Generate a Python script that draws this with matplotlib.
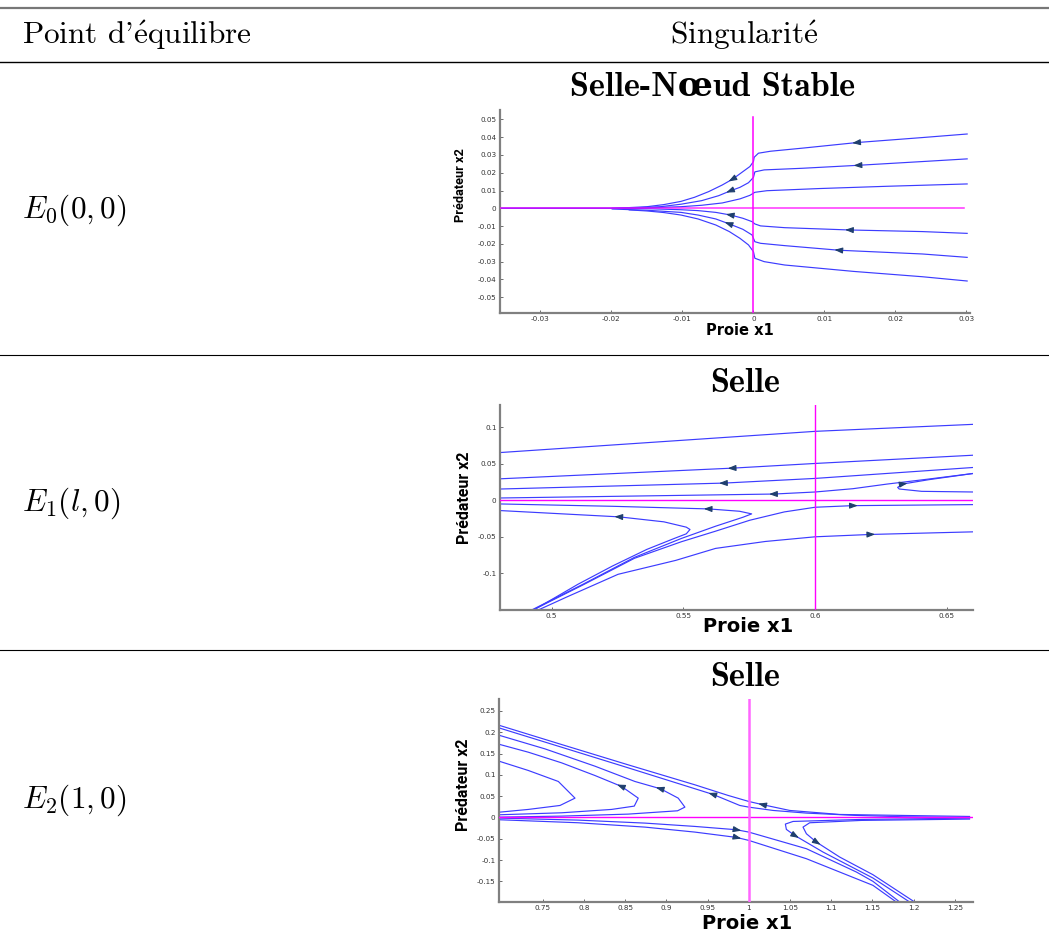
import matplotlib.pyplot as plt
from matplotlib.lines import Line2D
import numpy as np

plt.rcParams["mathtext.fontset"] = "cm"

# ---------------------------------------------------------------- table text
HEADER_LEFT = "Point d'$\\mathrm{\\acute{e}}$quilibre"
HEADER_RIGHT = "Singularit$\\mathrm{\\acute{e}}$"
ROW_POINTS = [r"$E_0(0,0)$", r"$E_1(l,0)$", r"$E_2(1,0)$"]
ROW_TITLES = ["Selle-Nœud Stable", "Selle", "Selle"]
X_LABEL = "Proie x1"
Y_LABEL = "Prédateur x2"

# ---------------------------------------------------------------- panel E0
E0_POINT = (0.0, 0.0)
E0_XLIM = (-0.0357, 0.0305)
E0_YLIM = (-0.0589, 0.0553)
E0_XTICKS = [-0.03, -0.02, -0.01, 0, 0.01, 0.02, 0.03]
E0_XTICKLABELS = ["-0.03", "-0.02", "-0.01", "0", "0.01", "0.02", "0.03"]
E0_YTICKS = [0.05, 0.04, 0.03, 0.02, 0.01, 0, -0.01, -0.02, -0.03, -0.04, -0.05]
E0_YTICKLABELS = ["0.05", "0.04", "0.03", "0.02", "0.01", "0", "-0.01", "-0.02",
                  "-0.03", "-0.04", "-0.05"]
E0_HLINE_END = 0.0296
E0_VLINE_END = 0.0516

e0_t1 = [(0.0301, 0.0418), (0.0238, 0.0398), (0.0146, 0.0370), (0.0068, 0.0338),
         (0.0024, 0.0321), (0.0007, 0.0310), (0.0001, 0.0287), (0.0, 0.0263),
         (-0.0005, 0.0235), (-0.0015, 0.0206), (-0.0029, 0.0165), (-0.0044, 0.0131),
         (-0.0063, 0.0094), (-0.0083, 0.0062), (-0.0102, 0.0039), (-0.0126, 0.0021),
         (-0.0150, 0.0009), (-0.0175, 0.0004), (-0.0199, 0.0), (-0.0357, 0.0)]
e0_t2 = [(0.0301, 0.0278), (0.0238, 0.0263), (0.0148, 0.0242), (0.0068, 0.0225),
         (0.0015, 0.0216), (0.0002, 0.0205), (0.0, 0.0174), (-0.0007, 0.0144),
         (-0.0019, 0.0118), (-0.0032, 0.0099), (-0.0049, 0.0071), (-0.0073, 0.0043),
         (-0.0102, 0.0023), (-0.0131, 0.0009), (-0.0160, 0.0004), (-0.0199, 0.0),
         (-0.0357, 0.0)]
e0_t3 = [(0.0301, 0.0137), (0.0189, 0.0124), (0.0092, 0.0111), (0.0019, 0.0099),
         (0.0002, 0.0090), (-0.0005, 0.0073), (-0.0019, 0.0053), (-0.0044, 0.0030),
         (-0.0073, 0.0017), (-0.0102, 0.0009), (-0.0141, 0.0004), (-0.0199, 0.0),
         (-0.0357, 0.0)]
e0_b1 = [(0.0301, -0.0141), (0.0238, -0.0131), (0.0136, -0.0122), (0.0044, -0.0109),
         (0.0010, -0.0099), (0.0002, -0.0088), (-0.0002, -0.0075), (-0.0015, -0.0056),
         (-0.0032, -0.0038), (-0.0053, -0.0023), (-0.0078, -0.0013), (-0.0102, -0.0008),
         (-0.0150, -0.0002), (-0.0199, 0.0)]
e0_b2 = [(0.0301, -0.0276), (0.0238, -0.0257), (0.0121, -0.0236), (0.0044, -0.0210),
         (0.0010, -0.0197), (0.0002, -0.0188), (-0.0002, -0.0150), (-0.0015, -0.0118),
         (-0.0034, -0.0088), (-0.0053, -0.0060), (-0.0078, -0.0038), (-0.0102, -0.0023),
         (-0.0150, -0.0011), (-0.0199, -0.0004)]
e0_b3 = [(0.0301, -0.0409), (0.0238, -0.0385), (0.0141, -0.0355), (0.0044, -0.0319),
         (0.0015, -0.0300), (0.0002, -0.0281), (0.0, -0.0244), (-0.0007, -0.0206),
         (-0.0019, -0.0169), (-0.0034, -0.0131), (-0.0053, -0.0094), (-0.0078, -0.0060),
         (-0.0102, -0.0038), (-0.0126, -0.0024), (-0.0150, -0.0015), (-0.0175, -0.0009)]
E0_CURVES = [e0_t1, e0_t2, e0_t3, e0_b1, e0_b2, e0_b3]
# (curve, index of arrow point, index it points towards)
E0_ARROWS = [(e0_t1, 2, 3), (e0_t1, 10, 11), (e0_t2, 2, 3), (e0_t2, 9, 10),
             (e0_b1, 2, 3), (e0_b1, 8, 9), (e0_b2, 2, 3), (e0_b2, 8, 9)]

# ---------------------------------------------------------------- panel E1
E1_POINT = (0.6, 0.0)
E1_XLIM = (0.4804, 0.6599)
E1_YLIM = (-0.1503, 0.1306)
E1_XTICKS = [0.5, 0.55, 0.6, 0.65]
E1_XTICKLABELS = ["0.5", "0.55", "0.6", "0.65"]
E1_YTICKS = [0.1, 0.05, 0, -0.05, -0.1]
E1_YTICKLABELS = ["0.1", "0.05", "0", "-0.05", "-0.1"]

e1_l1 = [(0.4807, 0.0655), (0.6, 0.0945), (0.66, 0.1041)]
e1_l2 = [(0.4807, 0.0295), (0.5687, 0.0441), (0.6, 0.0505), (0.66, 0.0618)]
e1_l3 = [(0.4807, 0.0155), (0.5654, 0.0236), (0.6, 0.0300), (0.66, 0.0450)]
e1_l4 = [(0.66, 0.0114), (0.6404, 0.0123), (0.6319, 0.0155), (0.6313, 0.0177),
         (0.6332, 0.0223), (0.6430, 0.0282), (0.66, 0.0368)]
e1_l5 = [(0.4807, 0.0032), (0.5844, 0.0086), (0.6, 0.0114), (0.6143, 0.0159),
         (0.6274, 0.0223), (0.6430, 0.0291), (0.66, 0.0368)]
e1_l6 = [(0.4807, -0.0050), (0.5231, -0.0082), (0.5596, -0.0118), (0.5713, -0.0150),
         (0.5759, -0.0186), (0.5726, -0.0232), (0.5622, -0.0355), (0.5492, -0.0523),
         (0.5314, -0.0782), (0.5119, -0.1150), (0.4923, -0.1505)]
e1_l7 = [(0.4807, -0.0141), (0.5257, -0.0227), (0.5426, -0.0295), (0.5511, -0.0368),
         (0.5525, -0.0400), (0.5511, -0.0459), (0.5465, -0.0523), (0.5361, -0.0673),
         (0.5231, -0.0900), (0.5100, -0.1150), (0.4931, -0.1505)]
e1_l8 = [(0.66, -0.0059), (0.6143, -0.0073), (0.6, -0.0095), (0.5883, -0.0159),
         (0.5752, -0.0273), (0.5622, -0.0423), (0.5492, -0.0568), (0.5314, -0.0795),
         (0.5119, -0.1159), (0.4923, -0.1514)]
e1_l9 = [(0.66, -0.0432), (0.6209, -0.0468), (0.6, -0.0500), (0.5811, -0.0564),
         (0.5622, -0.0659), (0.5471, -0.0823), (0.5252, -0.1014), (0.5056, -0.1327),
         (0.4951, -0.1500)]
E1_CURVES = [e1_l1, e1_l2, e1_l3, e1_l4, e1_l5, e1_l6, e1_l7, e1_l8, e1_l9]
E1_ARROWS = [(e1_l2, 1, 0), (e1_l3, 1, 0), (e1_l5, 1, 0), (e1_l6, 2, 1),
             (e1_l7, 1, 0), (e1_l8, 1, 0), (e1_l9, 1, 0), (e1_l4, 4, 5)]

# ---------------------------------------------------------------- panel E2
E2_POINT = (1.0, 0.0)
E2_XLIM = (0.697, 1.272)
E2_YLIM = (-0.1985, 0.278)
E2_XTICKS = [0.75, 0.8, 0.85, 0.9, 0.95, 1, 1.05, 1.1, 1.15, 1.2, 1.25]
E2_XTICKLABELS = ["0.75", "0.8", "0.85", "0.9", "0.95", "1", "1.05", "1.1", "1.15",
                  "1.2", "1.25"]
E2_YTICKS = [0.25, 0.2, 0.15, 0.1, 0.05, 0, -0.05, -0.1, -0.15]
E2_YTICKLABELS = ["0.25", "0.2", "0.15", "0.1", "0.05", "0", "-0.05", "-0.1", "-0.15"]

e2_p1 = [(0.6983, 0.2156), (0.7730, 0.1711), (0.8538, 0.1234), (0.9346, 0.0766),
         (0.9750, 0.0516), (1.0, 0.0375), (1.0174, 0.0297), (1.0497, 0.0164),
         (1.1103, 0.0070), (1.1870, 0.0047), (1.2678, 0.0023)]
e2_p2 = [(0.6983, 0.2094), (0.7730, 0.1648), (0.8538, 0.1164), (0.9568, 0.0539),
         (0.9891, 0.0281), (1.0, 0.0242), (1.0295, 0.0164), (1.0699, 0.0102),
         (1.1305, 0.0047), (1.1870, 0.0016), (1.2678, 0.0)]
e2_c1 = [(0.6983, 0.1313), (0.7326, 0.1102), (0.7690, 0.0844), (0.7892, 0.0453),
         (0.7710, 0.0281), (0.7326, 0.0188), (0.6983, 0.0125)]
e2_c2 = [(0.6983, 0.1711), (0.7326, 0.1531), (0.7730, 0.1281), (0.8134, 0.0984),
         (0.8457, 0.0727), (0.8659, 0.0453), (0.8611, 0.0266), (0.8336, 0.0188),
         (0.7730, 0.0109), (0.6983, 0.0063)]
e2_c3 = [(0.6983, 0.1922), (0.7528, 0.1609), (0.8134, 0.1203), (0.8619, 0.0844),
         (0.8930, 0.0672), (0.9144, 0.0453), (0.9225, 0.0242), (0.9136, 0.0156),
         (0.8538, 0.0078), (0.7730, 0.0031), (0.6983, 0.0008)]
e2_q1 = [(0.6983, -0.0016), (0.7932, -0.0063), (0.8740, -0.0133), (0.9346, -0.0211),
         (0.9851, -0.0289), (1.0, -0.0344), (1.0699, -0.0734), (1.1305, -0.1281),
         (1.1506, -0.1500), (1.1830, -0.1984)]
e2_q2 = [(0.6983, -0.0055), (0.7932, -0.0125), (0.8740, -0.0227), (0.9346, -0.0344),
         (0.9851, -0.0469), (1.0, -0.0539), (1.0699, -0.0969), (1.1506, -0.1594),
         (1.1789, -0.1984)]
e2_h1 = [(1.2678, -0.0016), (1.1365, -0.0047), (1.0537, -0.0094), (1.0444, -0.0156),
         (1.0456, -0.0281), (1.0557, -0.0422), (1.0901, -0.0813), (1.1506, -0.1422),
         (1.1951, -0.1984)]
e2_h2 = [(1.2678, -0.0039), (1.1365, -0.0070), (1.0739, -0.0125), (1.0658, -0.0227),
         (1.0699, -0.0383), (1.0820, -0.0578), (1.1103, -0.0930), (1.1506, -0.1344),
         (1.2011, -0.1984)]
E2_CURVES = [e2_p1, e2_p2, e2_c1, e2_c2, e2_c3, e2_q1, e2_q2, e2_h1, e2_h2]
E2_ARROWS = [(e2_p1, 6, 5), (e2_p2, 3, 2), (e2_c2, 4, 3), (e2_c3, 4, 3),
             (e2_q1, 4, 5), (e2_q2, 4, 5), (e2_h1, 5, 6), (e2_h2, 5, 6)]

# ---------------------------------------------------------------- styles
W, H = 1049, 943
CURVE_COLOR = "#3c3cff"
ARROW_COLOR = "#1f3f6e"
AXIS_COLOR = "#ff00ff"
SPINE_COLOR = "#808080"
SERIF = ["cmr10", "DejaVu Serif"]
SERIF_BOLD = ["cmb10", "DejaVu Serif"]
NARROW = ["Roboto", "DejaVu Sans"]


def px_axes(fig, left, top, right, bottom):
    return fig.add_axes([left / W, 1 - bottom / H, (right - left) / W, (bottom - top) / H])


def add_arrow(ax, curve, i, j):
    p0 = ax.transData.transform(curve[i])
    p1 = ax.transData.transform(curve[j])
    d = (p1 - p0) / np.hypot(*(p1 - p0))
    inv = ax.transData.inverted()
    ax.annotate("", xy=inv.transform(p0 + d * 5), xytext=inv.transform(p0 - d * 3),
                arrowprops=dict(arrowstyle="-|>,head_length=0.6,head_width=0.22",
                                color=ARROW_COLOR, lw=0.8, mutation_scale=8,
                                shrinkA=0, shrinkB=0), zorder=4)


def draw_panel(ax, curves, arrows, xlim, ylim, xticks, xticklabels, yticks,
               yticklabels, label_size, label_pos):
    ax.set_xlim(*xlim)
    ax.set_ylim(*ylim)
    for c in curves:
        xs, ys = zip(*c)
        ax.plot(xs, ys, color=CURVE_COLOR, lw=0.85, zorder=2)
    for c, i, j in arrows:
        add_arrow(ax, c, i, j)
    ax.set_xticks(xticks, xticklabels)
    ax.set_yticks(yticks, yticklabels)
    ax.tick_params(direction="in", length=2.5, width=0.6, color="#555555",
                   labelsize=5.2, labelcolor="#333333", pad=2.5)
    for s in ("top", "right"):
        ax.spines[s].set_visible(False)
    for s in ("left", "bottom"):
        ax.spines[s].set_color(SPINE_COLOR)
        ax.spines[s].set_linewidth(1.6)
    (xlx, xly), (ylx, yly) = label_pos
    ax.text(xlx, xly, X_LABEL, transform=ax.transAxes, ha="center", va="center",
            fontsize=label_size[0], fontweight="bold", family="DejaVu Sans")
    ax.text(ylx, yly, Y_LABEL, transform=ax.transAxes, ha="center", va="center",
            rotation=90, fontsize=label_size[1], fontweight="bold", family=NARROW)


fig = plt.figure(figsize=(W / 100, H / 100), dpi=100)

# table frame and texts, in pixel coordinates
bg = fig.add_axes([0, 0, 1, 1])
bg.set_xlim(0, W)
bg.set_ylim(H, 0)
bg.axis("off")
bg.add_line(Line2D([0, W], [8, 8], color="#777777", lw=1.6))
bg.add_line(Line2D([0, W], [62, 62], color="black", lw=1.0))
bg.add_line(Line2D([0, W], [355, 355], color="black", lw=0.8))
bg.add_line(Line2D([0, W], [650, 650], color="black", lw=0.8))
bg.text(22, 35, HEADER_LEFT, fontsize=22.5, family=SERIF, ha="left", va="center")
bg.text(744, 35, HEADER_RIGHT, fontsize=22.5, family=SERIF, ha="center", va="center")
for y, txt in zip([210, 503, 800], ROW_POINTS):
    bg.text(22, y, txt, fontsize=22.5, ha="left", va="center")
for (x, y), txt in zip([(713, 88), (745, 383), (745, 678)], ROW_TITLES):
    bg.text(x, y, txt, fontsize=24.5, family=SERIF_BOLD, fontweight="bold",
            ha="center", va="center")

# panel E0 : stable saddle-node
ax0 = px_axes(fig, 500, 110, 970, 313)
draw_panel(ax0, E0_CURVES, E0_ARROWS, E0_XLIM, E0_YLIM, E0_XTICKS, E0_XTICKLABELS,
           E0_YTICKS, E0_YTICKLABELS, (10.5, 9.2), ((0.51, -0.085), (-0.085, 0.63)))
ax0.plot([E0_XLIM[0], E0_HLINE_END], [E0_POINT[1]] * 2, color=AXIS_COLOR, lw=1.1,
         alpha=0.8, zorder=3)
ax0.plot([E0_POINT[0]] * 2, [E0_YLIM[0], E0_VLINE_END], color=AXIS_COLOR, lw=1.1,
         zorder=3)

# panel E1 : saddle
ax1 = px_axes(fig, 500, 405, 973, 610)
draw_panel(ax1, E1_CURVES, E1_ARROWS, E1_XLIM, E1_YLIM, E1_XTICKS, E1_XTICKLABELS,
           E1_YTICKS, E1_YTICKLABELS, (14, 11.5), ((0.524, -0.08), (-0.075, 0.55)))
ax1.axhline(E1_POINT[1], color=AXIS_COLOR, lw=1.0, zorder=3)
ax1.axvline(E1_POINT[0], color=AXIS_COLOR, lw=1.0, zorder=3)

# panel E2 : saddle
ax2 = px_axes(fig, 499, 699, 973, 902)
draw_panel(ax2, E2_CURVES, E2_ARROWS, E2_XLIM, E2_YLIM, E2_XTICKS, E2_XTICKLABELS,
           E2_YTICKS, E2_YTICKLABELS, (14, 11.5), ((0.524, -0.105), (-0.075, 0.576)))
ax2.axhline(E2_POINT[1], color=AXIS_COLOR, lw=1.0, zorder=3)
ax2.axvline(E2_POINT[0], color="#ff66ff", lw=1.8, zorder=3)

fig.savefig("out.png", dpi=100)
